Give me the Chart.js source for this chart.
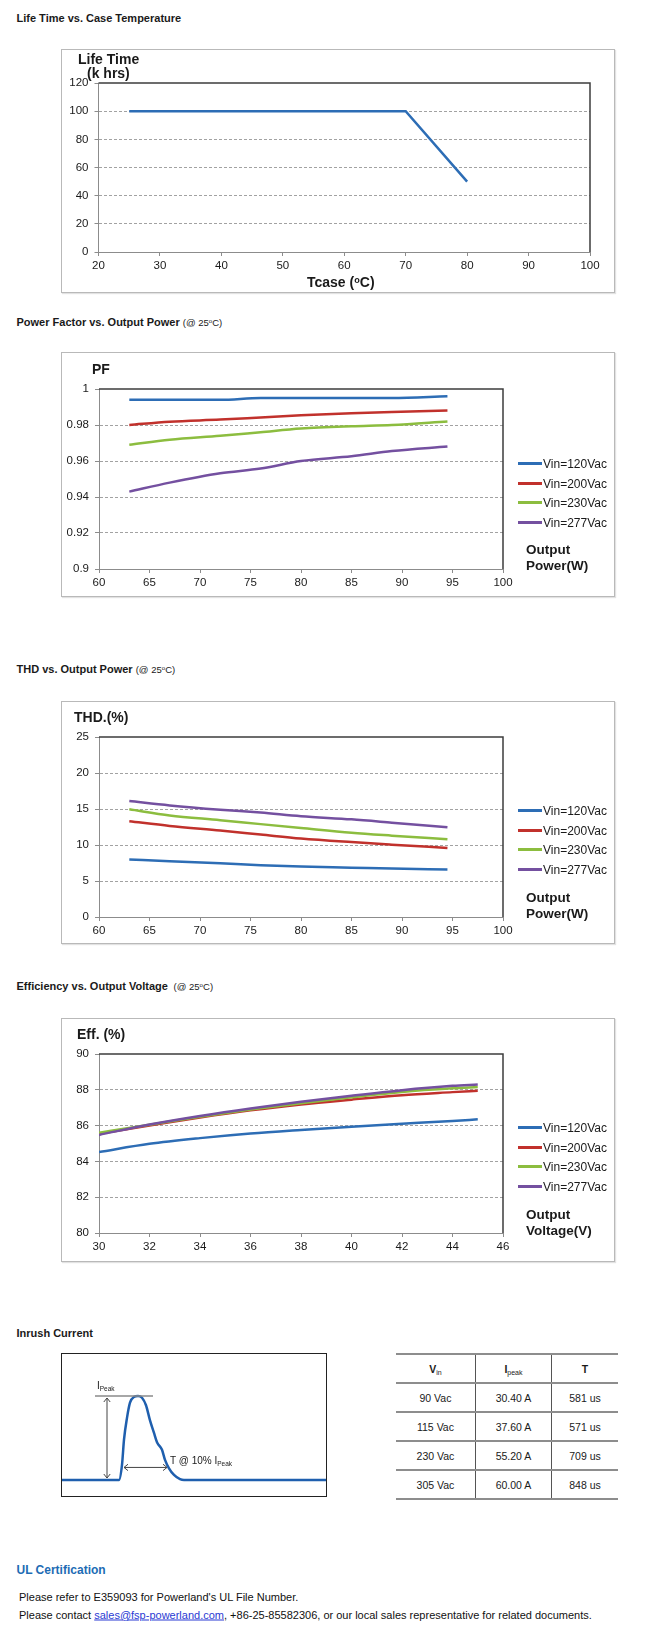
<!DOCTYPE html>
<html>
<head>
<meta charset="utf-8">
<title>Driver characteristic curves</title>
<script src="https://cdn.jsdelivr.net/npm/chart.js@4.4.1/dist/chart.umd.min.js"></script>
<style>
  body { margin: 0; background: #fff; font-family: "Liberation Sans", Arial, sans-serif; color: #1a1a1a; }
  #page { position: relative; width: 650px; height: 1643px; overflow: hidden; }
  .abs { position: absolute; white-space: nowrap; line-height: 1; transform: translateY(-50%); }
  .sec { font-weight: bold; font-size: 11px; left: 16.5px; }
  .sec span { font-weight: normal; font-size: 9.5px; }
  sup { font-size: 65%; vertical-align: 0.45em; line-height: 0; }
  sub { font-size: 65%; vertical-align: -0.25em; line-height: 0; }
  .frame { position: absolute; box-sizing: border-box; border: 1.5px solid #b9b9b9; box-shadow: 1px 1px 1px #e2e2e2; }
  canvas { position: absolute; }
  .atitle { font-weight: bold; font-size: 14px; }
  .side { font-weight: bold; font-size: 13.5px; left: 526px; }
  .leg { position: absolute; left: 518px; height: 14px; transform: translateY(-50%); font-size: 12px; white-space: nowrap; }
  .leg i { display: inline-block; width: 24px; height: 3px; vertical-align: middle; margin-right: 1px; }
  .leg b { font-weight: normal; vertical-align: middle; }
  #tbl { position: absolute; left: 396px; top: 1353px; width: 222px; border-collapse: collapse; font-size: 10.5px; }
  #tbl td, #tbl th { height: 27px; padding: 0; text-align: center; border-top: 2px solid #8d8d8d; border-bottom: 2px solid #8d8d8d; }
  #tbl td + td, #tbl th + th { border-left: 1.5px solid #555; }
  #tbl th { font-weight: bold; }
  #tbl th sub { font-weight: normal; font-size: 7px; }
  .ul { color: #1d6cb4; font-weight: bold; font-size: 12px; left: 16.5px; }
  .txt { font-size: 11px; left: 19px; color: #111; }
  .txt a { color: #2a3bd4; text-decoration: underline; }
</style>
</head>
<body>
<div id="page">
  <div class="abs sec" style="top:18px">Life Time vs. Case Temperature</div>
  <div class="frame" style="left:61px; top:49px; width:554px; height:244px"></div>
  <canvas id="lifeChart" width="554" height="244" style="left:61px; top:49px"></canvas>
  <div class="abs atitle" style="left:78px; top:59px">Life Time</div>
  <div class="abs atitle" style="left:87px; top:73px">(k hrs)</div>
  <div class="abs atitle" style="left:307px; top:282px">Tcase (<sup>o</sup>C)</div>

  <div class="abs sec" style="top:322px">Power Factor vs. Output Power <span>(@ 25<sup>o</sup>C)</span></div>
  <div class="frame" style="left:61px; top:352px; width:554px; height:245px"></div>
  <canvas id="pfChart" width="554" height="245" style="left:61px; top:352px"></canvas>
  <div class="abs atitle" style="left:92px; top:369px">PF</div>
  <div class="abs side" style="top:550px">Output</div>
  <div class="abs side" style="top:566px">Power(W)</div>

  <div class="abs sec" style="top:669px">THD vs. Output Power <span>(@ 25<sup>o</sup>C)</span></div>
  <div class="frame" style="left:61px; top:701px; width:554px; height:243px"></div>
  <canvas id="thdChart" width="554" height="243" style="left:61px; top:701px"></canvas>
  <div class="abs atitle" style="left:74px; top:717px">THD.(%)</div>
  <div class="abs side" style="top:898px">Output</div>
  <div class="abs side" style="top:914px">Power(W)</div>

  <div class="abs sec" style="top:986px">Efficiency vs. Output Voltage <span>&nbsp;(@ 25<sup>o</sup>C)</span></div>
  <div class="frame" style="left:61px; top:1018px; width:554px; height:244px"></div>
  <canvas id="effChart" width="554" height="244" style="left:61px; top:1018px"></canvas>
  <div class="abs atitle" style="left:77px; top:1034px">Eff. (%)</div>
  <div class="abs side" style="top:1215px">Output</div>
  <div class="abs side" style="top:1231px">Voltage(V)</div>

  <div class="abs sec" style="top:1333px">Inrush Current</div>
  <canvas id="inrushChart" width="266" height="144" style="left:61px; top:1353px"></canvas>
  <div class="frame" style="left:61px; top:1353px; width:266px; height:144px; border:1.5px solid #222; box-shadow:none"></div>
  <div class="abs" style="left:97px; top:1386px; font-size:10px">I<sub>Peak</sub></div>
  <div class="abs" style="left:170px; top:1461px; font-size:10px">T @ 10% I<sub>Peak</sub></div>
  <table id="tbl"></table>

  <div class="abs ul" style="top:1570px">UL Certification</div>
  <div class="abs txt" style="top:1597px">Please refer to E359093 for Powerland's UL File Number.</div>
  <div class="abs txt" style="top:1615px">Please contact <a>sales@fsp-powerland.com</a>, +86-25-85582306, or our local sales representative for related documents.</div>
</div>

<script>
// ---- data ----
const seriesNames = ['Vin=120Vac', 'Vin=200Vac', 'Vin=230Vac', 'Vin=277Vac'];
const seriesColors = ['#2d6db5', '#c1312c', '#8cbd3f', '#7450a0'];

// life time vs case temperature
const lifeTcase = [25, 70, 80];
const lifeKhrs = [100, 100, 50];
const lifeXTicks = [20, 30, 40, 50, 60, 70, 80, 90, 100];
const lifeYTicks = [0, 20, 40, 60, 80, 100, 120];

// power factor vs output power
const pfPower = [63, 67, 72, 76, 80, 85, 89, 94.5];
const pf120 = [0.994, 0.994, 0.994, 0.995, 0.995, 0.995, 0.995, 0.996];
const pf200 = [0.980, 0.9818, 0.983, 0.9842, 0.9854, 0.9865, 0.9872, 0.988];
const pf230 = [0.969, 0.9718, 0.974, 0.976, 0.978, 0.9793, 0.980, 0.982];
const pf277 = [0.943, 0.948, 0.9532, 0.9558, 0.960, 0.9626, 0.9655, 0.968];
const powerXTicks = [60, 65, 70, 75, 80, 85, 90, 95, 100];
const pfYTicks = [0.9, 0.92, 0.94, 0.96, 0.98, 1];

// THD vs output power
const thdPower = [63, 67, 72, 76, 80, 85, 89, 94.5];
const thd120 = [8.0, 7.75, 7.45, 7.2, 7.0, 6.85, 6.72, 6.6];
const thd200 = [13.3, 12.65, 12.0, 11.45, 10.9, 10.4, 10.05, 9.6];
const thd230 = [14.95, 14.1, 13.45, 12.9, 12.36, 11.7, 11.3, 10.8];
const thd277 = [16.1, 15.5, 14.9, 14.5, 14.0, 13.56, 13.1, 12.45];
const thdYTicks = [0, 5, 10, 15, 20, 25];

// efficiency vs output voltage
const effVolt = [30, 32, 34, 36, 38, 40, 42, 44, 45];
const eff120 = [84.52, 84.98, 85.3, 85.56, 85.76, 85.94, 86.1, 86.26, 86.35];
const eff200 = [85.55, 86.0, 86.45, 86.85, 87.18, 87.45, 87.7, 87.87, 87.95];
const eff230 = [85.6, 86.05, 86.5, 86.9, 87.25, 87.58, 87.88, 88.08, 88.15];
const eff277 = [85.48, 86.06, 86.54, 86.96, 87.33, 87.67, 87.98, 88.22, 88.3];
const voltXTicks = [30, 32, 34, 36, 38, 40, 42, 44, 46];
const effYTicks = [80, 82, 84, 86, 88, 90];

// inrush waveform sketch (time units, % of Ipeak)
const inrushT = [0, 58, 61, 63, 66, 69, 73, 77, 81, 85, 89, 93, 96, 101, 104, 108, 113, 119, 123, 265];
const inrushI = [0, 0, 18, 48, 74, 92, 99, 100, 98, 89, 71, 56, 45, 36, 24, 14, 6, 1, 0, 0];
const peakMarkT = [34, 92];
const peakArrowT = 46;
const tenPctLevel = 15;
const tenPctT = [63, 106];

// inrush table
const tblVin = ['90 Vac', '115 Vac', '230 Vac', '305 Vac'];
const tblIpeak = ['30.40 A', '37.60 A', '55.20 A', '60.00 A'];
const tblT = ['581 us', '571 us', '709 us', '848 us'];

Chart.defaults.font.family = '"Liberation Sans", Arial, sans-serif';
Chart.defaults.font.size = 11.5;
Chart.defaults.color = '#1a1a1a';

// dark frame on top and right side of the plot area
const plotFrame = {
    id: 'plotFrame',
    afterDatasetsDraw(chart) {
        const a = chart.chartArea, c = chart.ctx;
        c.save();
        c.strokeStyle = '#3c3c3c';
        c.lineWidth = 1.5;
        c.beginPath();
        c.moveTo(a.left, a.top);
        c.lineTo(a.right, a.top);
        c.lineTo(a.right, a.bottom);
        c.stroke();
        c.restore();
    }
};

const fmt = v => String(+(+v).toFixed(3));

function makeLineChart(id, xs, ys, labels, colors, xTicks, yTicks, geo, smooth) {
    const datasets = ys.map((vals, i) => ({
        label: labels[i],
        data: xs.map((x, j) => ({ x: x, y: vals[j] })),
        borderColor: colors[i],
        backgroundColor: colors[i],
        borderWidth: 2.5,
        pointRadius: 0,
        tension: smooth ? 0.4 : 0,
        cubicInterpolationMode: smooth ? 'monotone' : 'default',
        order: ys.length - i
    }));
    const lastY = yTicks.length - 1;
    return new Chart(document.getElementById(id), {
        type: 'line',
        data: { datasets: datasets },
        options: {
            responsive: false,
            animation: false,
            events: [],
            layout: { padding: { top: geo.top, right: geo.right, bottom: 0, left: 0 } },
            plugins: { legend: { display: false }, tooltip: { enabled: false } },
            scales: {
                x: {
                    type: 'linear',
                    min: xTicks[0],
                    max: xTicks[xTicks.length - 1],
                    afterBuildTicks: s => { s.ticks = xTicks.map(v => ({ value: v })); },
                    afterFit: s => { s.height = geo.xh; },
                    ticks: { padding: 3, maxRotation: 0, autoSkip: false, callback: fmt },
                    grid: { drawOnChartArea: false, tickLength: 4, color: '#8c8c8c' },
                    border: { color: '#8c8c8c', width: 1 }
                },
                y: {
                    type: 'linear',
                    min: yTicks[0],
                    max: yTicks[lastY],
                    afterBuildTicks: s => { s.ticks = yTicks.map(v => ({ value: v })); },
                    afterFit: s => { s.width = geo.yw; },
                    ticks: { padding: 6, autoSkip: false, callback: fmt },
                    grid: {
                        color: c => (c.index === 0 || c.index === lastY) ? 'rgba(0,0,0,0)' : '#a2a2a2',
                        tickColor: '#8c8c8c',
                        tickLength: 4
                    },
                    border: { color: '#8c8c8c', width: 1, dash: [3, 2] }
                }
            }
        },
        plugins: [plotFrame]
    });
}

function addLegend(chart, top) {
    const page = document.getElementById('page');
    chart.data.datasets.forEach((ds, i) => {
        const row = document.createElement('div');
        row.className = 'leg';
        row.style.top = (top + i * 19.5) + 'px';
        row.innerHTML = '<i style="background:' + ds.borderColor + '"></i><b>' + ds.label + '</b>';
        page.appendChild(row);
    });
}

makeLineChart('lifeChart', lifeTcase, [lifeKhrs], ['Life Time'], [seriesColors[0]],
    lifeXTicks, lifeYTicks, { top: 34, right: 25, xh: 41, yw: 37.5 }, false);

const pfChart = makeLineChart('pfChart', pfPower, [pf120, pf200, pf230, pf277], seriesNames, seriesColors,
    powerXTicks, pfYTicks, { top: 37, right: 112, xh: 28, yw: 38 }, true);
addLegend(pfChart, 463);

const thdChart = makeLineChart('thdChart', thdPower, [thd120, thd200, thd230, thd277], seriesNames, seriesColors,
    powerXTicks, thdYTicks, { top: 36, right: 112, xh: 27, yw: 38 }, true);
addLegend(thdChart, 810);

const effChart = makeLineChart('effChart', effVolt, [eff120, eff200, eff230, eff277], seriesNames, seriesColors,
    voltXTicks, effYTicks, { top: 36, right: 112, xh: 29, yw: 38 }, true);
addLegend(effChart, 1127);

// inrush sketch: peak marker line and the two dimension arrows
function arrowHead(c, x, y, dx, dy) {
    const s = 4;
    c.beginPath();
    c.moveTo(x + dx * s - dy * s * 0.8, y + dy * s - dx * s * 0.8);
    c.lineTo(x, y);
    c.lineTo(x + dx * s + dy * s * 0.8, y + dy * s + dx * s * 0.8);
    c.stroke();
}

const inrushMarks = {
    id: 'inrushMarks',
    afterDatasetsDraw(chart) {
        const c = chart.ctx, sx = chart.scales.x, sy = chart.scales.y;
        const yPeak = sy.getPixelForValue(100), yBase = sy.getPixelForValue(0);
        c.save();
        c.strokeStyle = '#8a8a8a';
        c.lineWidth = 1.5;
        c.beginPath();
        c.moveTo(sx.getPixelForValue(peakMarkT[0]), yPeak);
        c.lineTo(sx.getPixelForValue(peakMarkT[1]), yPeak);
        c.stroke();

        c.strokeStyle = '#444';
        c.lineWidth = 1;
        const xa = sx.getPixelForValue(peakArrowT);
        c.beginPath();
        c.moveTo(xa, yPeak + 2);
        c.lineTo(xa, yBase - 2);
        c.stroke();
        arrowHead(c, xa, yPeak + 2, 0, 1);
        arrowHead(c, xa, yBase - 2, 0, -1);

        const yt = sy.getPixelForValue(tenPctLevel);
        const x1 = sx.getPixelForValue(tenPctT[0]), x2 = sx.getPixelForValue(tenPctT[1]);
        c.beginPath();
        c.moveTo(x1, yt);
        c.lineTo(x2, yt);
        c.stroke();
        arrowHead(c, x1, yt, 1, 0);
        arrowHead(c, x2, yt, -1, 0);
        c.restore();
    }
};

new Chart(document.getElementById('inrushChart'), {
    type: 'line',
    data: {
        datasets: [{
            data: inrushT.map((t, i) => ({ x: t, y: inrushI[i] })),
            borderColor: '#1f5fae',
            borderWidth: 2.5,
            pointRadius: 0,
            tension: 0.4,
            cubicInterpolationMode: 'monotone'
        }]
    },
    options: {
        responsive: false,
        animation: false,
        events: [],
        layout: { padding: 0 },
        plugins: { legend: { display: false }, tooltip: { enabled: false } },
        scales: {
            x: { type: 'linear', display: false, min: 0, max: 266 },
            y: { type: 'linear', display: false, min: -20.2, max: 151.2 }
        }
    },
    plugins: [inrushMarks]
});

// inrush table
const tbl = document.getElementById('tbl');
tbl.innerHTML = '<tr><th>V<sub>in</sub></th><th>I<sub>peak</sub></th><th>T</th></tr>' +
    tblVin.map((v, i) => '<tr><td>' + v + '</td><td>' + tblIpeak[i] + '</td><td>' + tblT[i] + '</td></tr>').join('');
</script>
</body>
</html>
